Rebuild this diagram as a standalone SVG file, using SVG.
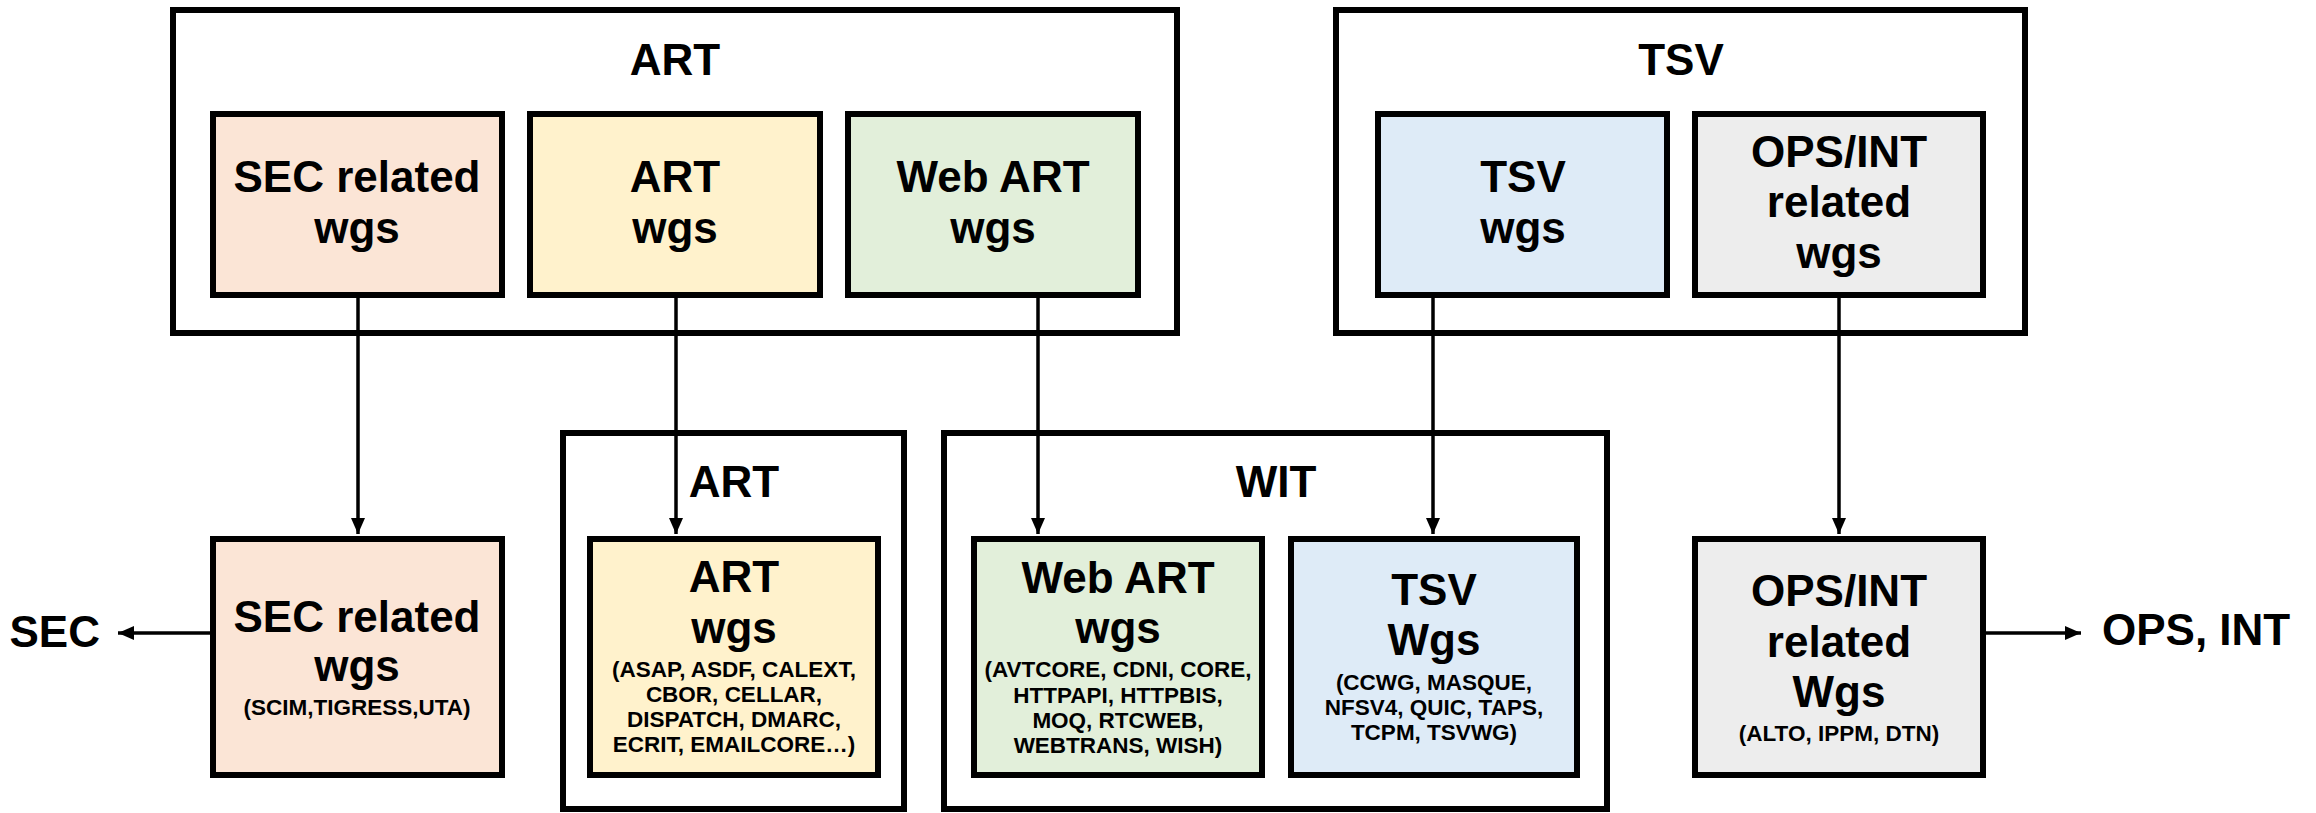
<svg xmlns="http://www.w3.org/2000/svg" width="2316" height="813" viewBox="0 0 2316 813">
<style>
.outer{fill:#ffffff;stroke:#000;stroke-width:6}
.box{stroke:#000;stroke-width:6}
.sec{fill:#FBE5D6}.art{fill:#FFF2CC}.web{fill:#E2EFDA}.tsv{fill:#DEEBF7}.ops{fill:#EDEDED}
text{font-family:"Liberation Sans",Arial,sans-serif;font-weight:bold;fill:#000;text-anchor:middle}
.big{font-size:44px}
.small{font-size:22.5px}
.conn{stroke:#000;stroke-width:3.5;fill:none}
</style>
<defs>
<marker id="arr" viewBox="0 0 16 14" refX="16" refY="7" markerWidth="16" markerHeight="14" orient="auto" markerUnits="userSpaceOnUse">
<path d="M0,0 L16,7 L0,14 Z" fill="#000"/>
</marker>
</defs>
<rect width="2316" height="813" fill="#fff"/>

<g id="art-top-group">
<rect class="outer" x="173" y="10" width="1004" height="323"/>
<text class="big" x="675" y="75">ART</text>
</g>
<g id="tsv-top-group">
<rect class="outer" x="1336" y="10" width="689" height="323"/>
<text class="big" x="1681" y="75">TSV</text>
</g>
<g id="art-bottom-group">
<rect class="outer" x="563" y="433" width="341" height="376"/>
<text class="big" x="734" y="497">ART</text>
</g>
<g id="wit-group">
<rect class="outer" x="944" y="433" width="663" height="376"/>
<text class="big" x="1276" y="497">WIT</text>
</g>

<g id="sec-top">
<rect class="box sec" x="213" y="114" width="289" height="181"/>
<text class="big" x="357" y="192">SEC related</text>
<text class="big" x="357" y="243">wgs</text>
</g>
<g id="art-top">
<rect class="box art" x="530" y="114" width="290" height="181"/>
<text class="big" x="675" y="192">ART</text>
<text class="big" x="675" y="243">wgs</text>
</g>
<g id="web-top">
<rect class="box web" x="848" y="114" width="290" height="181"/>
<text class="big" x="993" y="192">Web ART</text>
<text class="big" x="993" y="243">wgs</text>
</g>
<g id="tsv-top">
<rect class="box tsv" x="1378" y="114" width="289" height="181"/>
<text class="big" x="1523" y="192">TSV</text>
<text class="big" x="1523" y="243">wgs</text>
</g>
<g id="ops-top">
<rect class="box ops" x="1695" y="114" width="288" height="181"/>
<text class="big" x="1839" y="167">OPS/INT</text>
<text class="big" x="1839" y="217">related</text>
<text class="big" x="1839" y="268">wgs</text>
</g>

<g id="sec-bottom">
<rect class="box sec" x="213" y="539" width="289" height="236"/>
<text class="big" x="357" y="632">SEC related</text>
<text class="big" x="357" y="681">wgs</text>
<text class="small" x="357" y="715">(SCIM,TIGRESS,UTA)</text>
</g>
<g id="art-bottom">
<rect class="box art" x="590" y="539" width="288" height="236"/>
<text class="big" x="734" y="592">ART</text>
<text class="big" x="734" y="643">wgs</text>
<text class="small" x="734" y="677">(ASAP, ASDF, CALEXT,</text>
<text class="small" x="734" y="702">CBOR, CELLAR,</text>
<text class="small" x="734" y="727">DISPATCH, DMARC,</text>
<text class="small" x="734" y="752">ECRIT, EMAILCORE…)</text>
</g>
<g id="web-bottom">
<rect class="box web" x="974" y="539" width="288" height="236"/>
<text class="big" x="1118" y="593">Web ART</text>
<text class="big" x="1118" y="643">wgs</text>
<text class="small" x="1118" y="677">(AVTCORE, CDNI, CORE,</text>
<text class="small" x="1118" y="703">HTTPAPI, HTTPBIS,</text>
<text class="small" x="1118" y="728">MOQ, RTCWEB,</text>
<text class="small" x="1118" y="753">WEBTRANS, WISH)</text>
</g>
<g id="tsv-bottom">
<rect class="box tsv" x="1291" y="539" width="286" height="236"/>
<text class="big" x="1434" y="605">TSV</text>
<text class="big" x="1434" y="655">Wgs</text>
<text class="small" x="1434" y="690">(CCWG, MASQUE,</text>
<text class="small" x="1434" y="715">NFSV4, QUIC, TAPS,</text>
<text class="small" x="1434" y="740">TCPM, TSVWG)</text>
</g>
<g id="ops-bottom">
<rect class="box ops" x="1695" y="539" width="288" height="236"/>
<text class="big" x="1839" y="606">OPS/INT</text>
<text class="big" x="1839" y="657">related</text>
<text class="big" x="1839" y="707">Wgs</text>
<text class="small" x="1839" y="741">(ALTO, IPPM, DTN)</text>
</g>

<g id="label-sec">
<text class="big" x="100" y="647" style="text-anchor:end">SEC</text>
</g>
<g id="label-ops-int">
<text class="big" x="2102" y="645" style="text-anchor:start">OPS, INT</text>
</g>

<g id="connectors">
<line class="conn" x1="358" y1="298" x2="358" y2="534" marker-end="url(#arr)"/>
<line class="conn" x1="676" y1="298" x2="676" y2="534" marker-end="url(#arr)"/>
<line class="conn" x1="1038" y1="298" x2="1038" y2="534" marker-end="url(#arr)"/>
<line class="conn" x1="1433" y1="298" x2="1433" y2="534" marker-end="url(#arr)"/>
<line class="conn" x1="1839" y1="298" x2="1839" y2="534" marker-end="url(#arr)"/>
<line class="conn" x1="210" y1="633" x2="118" y2="633" marker-end="url(#arr)"/>
<line class="conn" x1="1986" y1="633" x2="2081" y2="633" marker-end="url(#arr)"/>
</g>
</svg>
